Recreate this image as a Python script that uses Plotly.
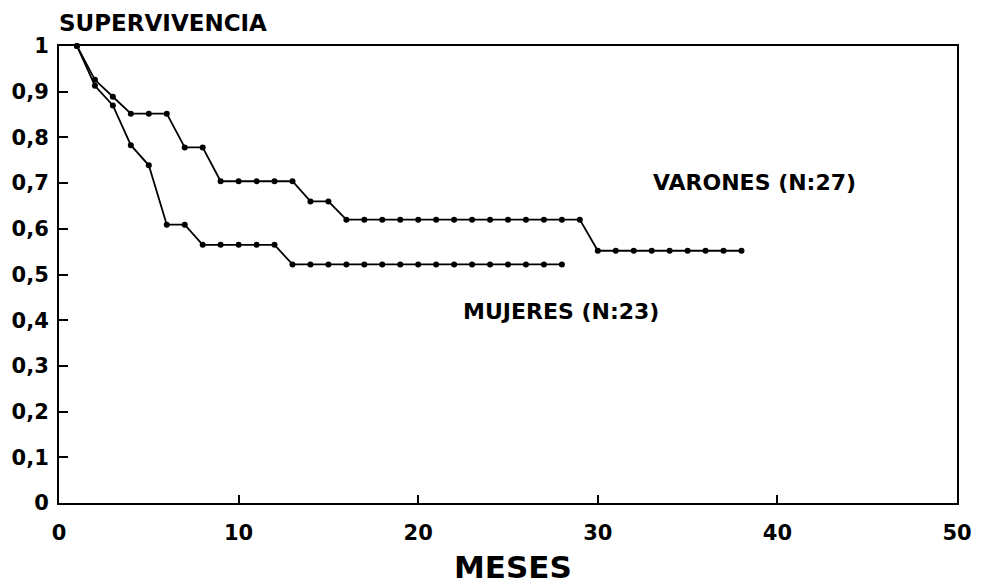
import plotly.graph_objects as go

# Survival estimates by month
meses_varones = list(range(1, 39))
supervivencia_varones = [
    1.0, 0.926, 0.889, 0.852, 0.852, 0.852, 0.778, 0.778, 0.704, 0.704,
    0.704, 0.704, 0.704, 0.660, 0.660, 0.620, 0.620, 0.620, 0.620, 0.620,
    0.620, 0.620, 0.620, 0.620, 0.620, 0.620, 0.620, 0.620, 0.620, 0.552,
    0.552, 0.552, 0.552, 0.552, 0.552, 0.552, 0.552, 0.552,
]

meses_mujeres = list(range(1, 29))
supervivencia_mujeres = [
    1.0, 0.913, 0.870, 0.783, 0.739, 0.609, 0.609, 0.565, 0.565, 0.565,
    0.565, 0.565, 0.522, 0.522, 0.522, 0.522, 0.522, 0.522, 0.522, 0.522,
    0.522, 0.522, 0.522, 0.522, 0.522, 0.522, 0.522, 0.522,
]

y_ticks = [0, 0.1, 0.2, 0.3, 0.4, 0.5, 0.6, 0.7, 0.8, 0.9, 1]
y_tick_labels = ["0", "0,1", "0,2", "0,3", "0,4", "0,5", "0,6", "0,7", "0,8", "0,9", "1"]
x_ticks = [0, 10, 20, 30, 40, 50]
x_tick_labels = ["0", "10", "20", "30", "40", "50"]

FONT = "DejaVu Sans"
INK = "black"

fig = go.Figure()

for xs, ys, name in [
    (meses_varones, supervivencia_varones, "Varones"),
    (meses_mujeres, supervivencia_mujeres, "Mujeres"),
]:
    fig.add_trace(go.Scatter(
        x=xs, y=ys, name=name, mode="lines+markers",
        line=dict(color=INK, width=1.8),
        marker=dict(color=INK, size=6),
        showlegend=False, cliponaxis=False,
    ))

axis_common = dict(
    showgrid=False, zeroline=False, showline=True, linecolor=INK, linewidth=2,
    mirror=True, ticks="inside", tickcolor=INK, tickwidth=1.5,
    tickfont=dict(family=FONT, size=21, color=INK, weight="bold"),
)

fig.update_xaxes(
    range=[0, 50], tickvals=x_ticks, ticktext=x_tick_labels, ticklen=8,
    ticklabelstandoff=10, **axis_common,
)
fig.update_yaxes(
    range=[0, 1], tickvals=y_ticks, ticktext=y_tick_labels, ticklen=9,
    ticklabelstandoff=4, **axis_common,
)

label_font = dict(family=FONT, size=22, color=INK, weight="bold")
fig.add_annotation(text="SUPERVIVENCIA", xref="paper", yref="paper",
                   x=-0.002, y=1.050, xanchor="left", yanchor="middle",
                   showarrow=False, font=dict(family=FONT, size=23, color=INK, weight="bold"))
fig.add_annotation(text="VARONES (N:27)", xref="x", yref="y",
                   x=38.72, y=0.702, xanchor="center", yanchor="middle",
                   showarrow=False, font=label_font)
fig.add_annotation(text="MUJERES (N:23)", xref="x", yref="y",
                   x=27.94, y=0.418, xanchor="center", yanchor="middle",
                   showarrow=False, font=label_font)
fig.add_annotation(text="MESES", xref="paper", yref="paper",
                   x=0.5055, y=-0.140, xanchor="center", yanchor="middle",
                   showarrow=False, font=dict(family=FONT, size=31, color=INK, weight="bold"))

fig.update_layout(
    width=984, height=585,
    margin=dict(l=58, r=24, t=46, b=82),
    paper_bgcolor="white", plot_bgcolor="white",
)

fig.write_html("out.html")
